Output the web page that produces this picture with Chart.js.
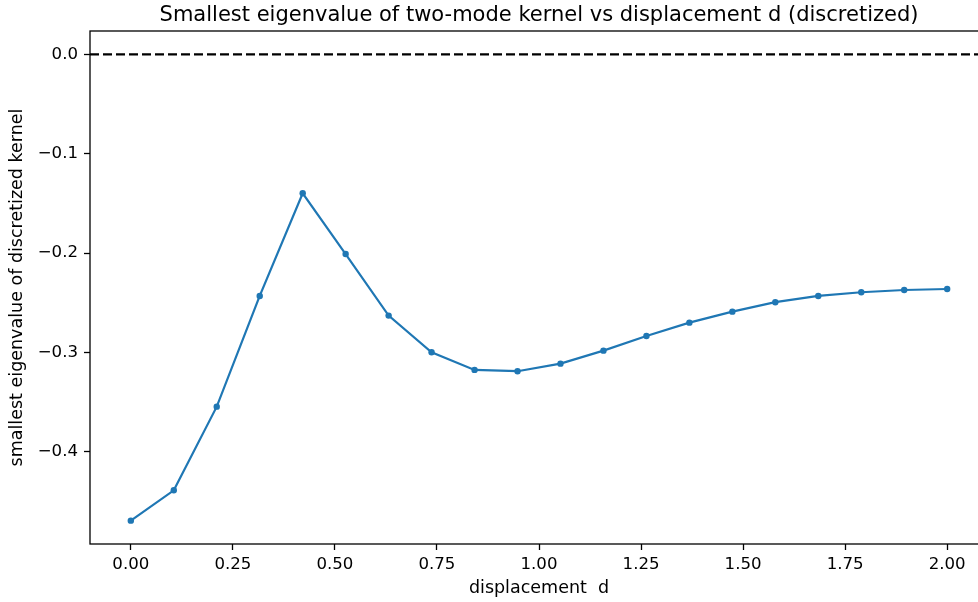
<!DOCTYPE html>
<html>
<head>
<meta charset="utf-8">
<script src="https://cdn.jsdelivr.net/npm/chart.js@4.4.1/dist/chart.umd.min.js"></script>
<style>
  html, body { margin: 0; padding: 0; background: #fff; overflow: hidden; width: 978px; height: 602px; }
  #wrap { position: absolute; left: 0; top: 0; width: 1000px; height: 602px; }
</style>
</head>
<body>
<div id="wrap"><canvas id="myChart" width="1000" height="602"></canvas></div>
<script>
// displacement d and smallest eigenvalue of the discretized kernel
const dValues = [0, 0.1053, 0.2105, 0.3158, 0.4211, 0.5263, 0.6316, 0.7368, 0.8421, 0.9474,
                 1.0526, 1.1579, 1.2632, 1.3684, 1.4737, 1.5789, 1.6842, 1.7895, 1.8947, 2.0];
const minEig = [-0.4695, -0.4389, -0.3547, -0.2432, -0.1398, -0.2010, -0.2630, -0.2999, -0.3177, -0.3190,
                -0.3114, -0.2983, -0.2835, -0.2701, -0.2590, -0.2495, -0.2432, -0.2395, -0.2372, -0.2362];

// reference line at zero
const zeroLineX = [-0.1, 2.1];
const zeroLineY = [0, 0];

const xTicks = [0, 0.25, 0.5, 0.75, 1.0, 1.25, 1.5, 1.75, 2.0];
const yTicks = [0.0, -0.1, -0.2, -0.3, -0.4];

const titleText = 'Smallest eigenvalue of two-mode kernel vs displacement d (discretized)';
const FONT = "'DejaVu Sans', sans-serif";

const framePlugin = {
    id: 'frame',
    afterDraw(chart) {
        const {ctx, chartArea: a} = chart;
        ctx.save();
        ctx.strokeStyle = '#000';
        ctx.lineWidth = 1.3;
        ctx.strokeRect(a.left, a.top, a.right - a.left, a.bottom - a.top);
        ctx.fillStyle = '#000';
        ctx.font = '21px ' + FONT;
        ctx.textAlign = 'center';
        ctx.textBaseline = 'alphabetic';
        ctx.fillText(titleText, (a.left + a.right) / 2, 21);
        ctx.restore();
    }
};

function createChart() {
    const data = {
        datasets: [{
            data: zeroLineX.map((x, i) => ({x: x, y: zeroLineY[i]})),
            borderColor: '#000',
            borderWidth: 2.2,
            borderDash: [9, 4],
            pointRadius: 0,
            order: 2
        }, {
            data: dValues.map((x, i) => ({x: x, y: minEig[i]})),
            borderColor: '#1f77b4',
            backgroundColor: '#1f77b4',
            borderWidth: 2.2,
            pointRadius: 3.2,
            pointBorderWidth: 0,
            order: 1
        }]
    };

    const config = {
        type: 'line',
        data: data,
        options: {
            responsive: false,
            animation: false,
            layout: { padding: { top: 31, right: 12, bottom: 0, left: 0 } },
            plugins: { legend: { display: false }, tooltip: { enabled: false }, title: { display: false } },
            scales: {
                x: {
                    type: 'linear',
                    min: -0.1,
                    max: 2.1,
                    afterBuildTicks: (s) => { s.ticks = xTicks.map(v => ({value: v})); },
                    afterFit: (s) => { s.height = 58; },
                    border: { display: false },
                    grid: { drawOnChartArea: false, drawTicks: true, tickLength: 6, tickColor: '#000', tickWidth: 1.3 },
                    ticks: {
                        color: '#000',
                        padding: 5,
                        maxRotation: 0,
                        font: { family: FONT, size: 16.6 },
                        callback: (v) => v.toFixed(2)
                    },
                    title: {
                        display: true,
                        text: 'displacement  d',
                        color: '#000',
                        font: { family: FONT, size: 17.5 },
                        padding: { top: 0, bottom: 3 }
                    }
                },
                y: {
                    type: 'linear',
                    min: -0.493,
                    max: 0.0236,
                    afterBuildTicks: (s) => { s.ticks = yTicks.map(v => ({value: v})); },
                    afterFit: (s) => { s.width = 90; },
                    border: { display: false },
                    grid: { drawOnChartArea: false, drawTicks: true, tickLength: 6, tickColor: '#000', tickWidth: 1.3 },
                    ticks: {
                        color: '#000',
                        padding: 6,
                        font: { family: FONT, size: 16.6 },
                        callback: (v) => (v < 0 ? '\u2212' : '') + Math.abs(v).toFixed(1)
                    },
                    title: {
                        display: true,
                        text: 'smallest eigenvalue of discretized kernel',
                        color: '#000',
                        font: { family: FONT, size: 17.5 },
                        padding: { top: 7, bottom: 0 }
                    }
                }
            }
        },
        plugins: [framePlugin]
    };
    new Chart(document.getElementById('myChart'), config);
}

createChart();
</script>
</body>
</html>
